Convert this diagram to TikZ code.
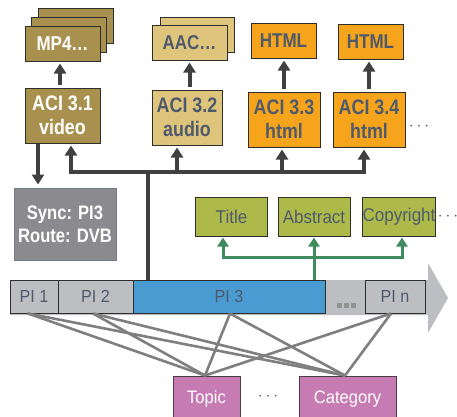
\documentclass[tikz,border=0pt]{standalone}
\usepackage{fontspec}
\setmainfont{Liberation Sans}
\newfontfamily\narrowbold[FakeStretch=0.85]{Liberation Sans}
\newfontfamily\narrowplain[FakeStretch=0.92]{Liberation Sans}
\usepackage{tikz}
\usetikzlibrary{arrows.meta}

\definecolor{olivebox}{HTML}{A8914E}
\definecolor{khakibox}{HTML}{DFC47C}
\definecolor{orangebox}{HTML}{F6A41C}
\definecolor{greenbox}{HTML}{ADBA4A}
\definecolor{syncgray}{HTML}{8B8B8F}
\definecolor{pigray}{HTML}{BDBEC2}
\definecolor{piblue}{HTML}{4B9BD3}
\definecolor{pinkbox}{HTML}{C77BB3}
\definecolor{textdark}{HTML}{4E5A6C}
\definecolor{arrowdark}{HTML}{404040}
\definecolor{metagreen}{HTML}{3F8A5E}
\definecolor{linkgray}{HTML}{7F7F7F}
\definecolor{edgedark}{HTML}{2E2E2E}

\tikzset{
    box/.style={draw=edgedark, line width=1pt, inner sep=0pt, align=center, text=textdark},
    acibox/.style={box, minimum height=55, font=\narrowbold\bfseries\fontsize{21}{24}\selectfont},
    filebox/.style={box, minimum height=35, font=\narrowbold\bfseries\fontsize{20}{22}\selectfont},
    metabox/.style={box, minimum width=72, minimum height=39, fill=greenbox, font=\narrowplain\fontsize{18.5}{20}\selectfont},
    pibox/.style={box, minimum height=33, fill=pigray, font=\narrowplain\fontsize{17.5}{20}\selectfont},
    catbox/.style={box, draw=edgedark!80!pinkbox, minimum height=46, fill=pinkbox, text=white, font=\narrowplain\fontsize{18}{20}\selectfont},
    flow/.style={draw=arrowdark, line width=4pt, -{Triangle[width=12pt, length=10pt]}},
    bus/.style={draw=arrowdark, line width=4pt},
    meta/.style={draw=metagreen, line width=3pt, -{Triangle[width=11pt, length=9pt]}},
    link/.style={draw=linkgray, line width=2.6pt},
    more/.style={text=textdark, font=\fontsize{16}{16}\selectfont},
}

\begin{document}
\begin{tikzpicture}[x=1pt, y=-1pt]
    \clip (0, 0) rectangle (457, 416);

    % draw file boxes
    \node[filebox, fill=olivebox, minimum width=75] (mp4c) at (75.5, 26) {};
    \node[filebox, fill=olivebox, minimum width=75] (mp4b) at (68.5, 35) {};
    \node[filebox, fill=olivebox, minimum width=75, text=white] (mp4) at (62.5, 43.5) {MP4\dots};
    \node[filebox, fill=khakibox, minimum width=74] (aacb) at (197, 34.5) {};
    \node[filebox, fill=khakibox, minimum width=75] (aac) at (189.5, 42.5) {AAC\dots};
    \node[filebox, fill=orangebox, minimum width=65] (html1) at (283.5, 40.5) {HTML};
    \node[filebox, fill=orangebox, minimum width=65] (html2) at (370.5, 41.5) {HTML};

    % draw aci boxes
    \node[acibox, fill=olivebox, minimum width=75, text=white] (aci1) at (62.5, 115.5) {ACI 3.1\\video};
    \node[acibox, fill=khakibox, minimum width=70] (aci2) at (187, 117.5) {ACI 3.2\\audio};
    \node[acibox, fill=orangebox, minimum width=72] (aci3) at (284, 119.5) {ACI 3.3\\html};
    \node[acibox, fill=orangebox, minimum width=72] (aci4) at (369, 119.5) {ACI 3.4\\html};
    \node[more] (acimore) at (419, 127) {$\cdots$};

    % draw sync box
    \node[box, draw=textdark!80, fill=syncgray, text=white, minimum width=102, minimum height=72,
          font=\narrowbold\bfseries\fontsize{19.5}{23}\selectfont] (sync) at (65, 224) {Sync: PI3\\Route: DVB};

    % draw metadata boxes
    \node[metabox] (title) at (231.5, 216.5) {Title};
    \node[metabox] (abstract) at (314, 216.5) {Abstract};
    \node[metabox] (copyright) at (399, 216.5) {Copyright};
    \node[more] (metamore) at (448, 217) {$\cdots$};

    % draw timeline
    \fill[pigray] (10, 280) -- (428, 280) -- (428, 263) -- (448, 298) -- (428, 333) -- (428, 315) -- (10, 315) -- cycle;
    \node[pibox, minimum width=48] (pi1) at (34, 296.5) {PI 1};
    \node[pibox, minimum width=75] (pi2) at (95.5, 296.5) {PI 2};
    \node[pibox, minimum width=192, fill=piblue] (pi3) at (229, 296.5) {PI 3};
    \node[pibox, minimum width=60] (pin) at (395, 296.5) {PI n};
    \foreach \x in {337, 344, 351}
        \fill[linkgray!85] (\x, 303) rectangle +(5, 5);

    % draw categories
    \node[catbox, minimum width=67] (topic) at (206.5, 399) {Topic};
    \node[catbox, minimum width=97] (category) at (347.5, 399) {Category};
    \node[more] (catmore) at (268, 397) {$\cdots$};

    % draw links
    \draw[link] ([xshift=-6]pi1.south) -- ([xshift=-1.5]topic.north);
    \draw[link] ([xshift=-6]pi1.south) -- ([xshift=-2.5]category.north);
    \draw[link] ([xshift=-2.5]pi2.south) -- ([xshift=-1.5]topic.north);
    \draw[link] ([xshift=-2.5]pi2.south) -- ([xshift=-2.5]category.north);
    \draw[link] ([xshift=1]pi3.south) -- ([xshift=-1.5]topic.north);
    \draw[link] ([xshift=1]pi3.south) -- ([xshift=-2.5]category.north);
    \draw[link] ([xshift=-4]pin.south) -- ([xshift=-1.5]topic.north);
    \draw[link] ([xshift=-4]pin.south) -- ([xshift=-2.5]category.north);

    % draw arrows to files
    \draw[flow, shorten <=3pt, shorten >=2pt] ([xshift=-2.5]aci1.north) -- ([xshift=-2.5]mp4.south);
    \draw[flow, shorten <=3pt, shorten >=2pt] (aac.south |- aci2.north) -- (aac.south);
    \draw[flow, shorten <=3pt, shorten >=2pt] (aci3.north) -- (html1.south -| aci3.north);
    \draw[flow, shorten <=3pt, shorten >=2pt] (aci4.north) -- (html2.south -| aci4.north);

    % draw bus
    \coordinate (hub) at (148, 172);
    \draw[bus] (pi3.north -| hub) -- (hub);
    \draw[flow, shorten >=2pt] (hub) -| ([xshift=8.5]aci1.south);
    \draw[flow, shorten >=2pt] (hub) -| ([xshift=-10]aci2.south);
    \draw[flow, shorten >=2pt] (hub) -| ([xshift=-2]aci3.south);
    \draw[flow, shorten >=2pt] (hub) -| ([xshift=-5]aci4.south);
    \draw[flow, shorten >=3pt] ([xshift=-24.5]aci1.south) -- ([xshift=-27]sync.north);

    % draw metadata links
    \coordinate (split) at (314, 257);
    \draw[meta, shorten >=1pt] (pi3.north -| split) -- (abstract.south);
    \draw[meta, shorten >=1pt] (split) -| ([xshift=-8.5]title.south);
    \draw[meta, shorten >=1pt] (split) -| ([xshift=3]copyright.south);
\end{tikzpicture}
\end{document}
